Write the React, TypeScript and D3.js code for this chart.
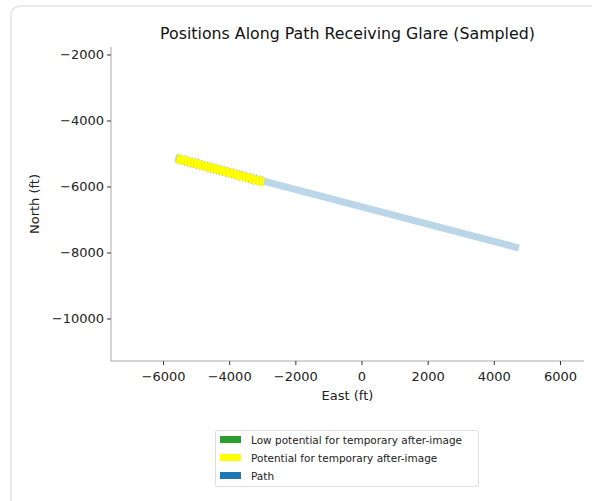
import React from "react";
import * as d3 from "d3";

const title = "Positions Along Path Receiving Glare (Sampled)";
const xTicks = [-6000, -4000, -2000, 0, 2000, 4000, 6000];
const yTicks = [-2000, -4000, -6000, -8000, -10000];
const pathEast = [-5650, 4740];
const pathNorth = [-5120, -7850];
const glareEast = [-5600, -2960];
const glareNorth = [-5135, -5850];
const legendLabels = ["Low potential for temporary after-image", "Potential for temporary after-image", "Path"];
const legendColors = ["#2ca02c", "#ffff00", "#1f77b4"];

export default function App() {
  const W = 592, H = 501;
  const left = 111, right = 584, top = 47, bottom = 361;
  const x = d3.scaleLinear().domain([-7588, 6711]).range([left, right]);
  const y = d3.scaleLinear().domain([-1758, -11273]).range([top, bottom]);
  const line = d3.line<[number, number]>().x(d => x(d[0])).y(d => y(d[1]));
  const pathPts: [number, number][] = pathEast.map((e, i) => [e, pathNorth[i]]);
  const glarePts: [number, number][] = glareEast.map((e, i) => [e, glareNorth[i]]);
  const font = "DejaVu Sans, sans-serif";
  return (
    <svg width={W} height={H} style={{ position: "absolute", left: 0, top: 0, background: "#fff" }} fontFamily={font}>
      <rect x={11} y={6} width={620} height={540} rx={9} fill="#fff" stroke="#e3e3e3" strokeWidth={1.5} />
      <text x={(left + right) / 2} y={39} textAnchor="middle" fontSize={15.8} fill="#111">{title}</text>
      <path d={line(pathPts) || ""} stroke="#1f77b4" strokeOpacity={0.3} strokeWidth={7} fill="none" />
      <path d={line(glarePts) || ""} stroke="#a0a030" strokeWidth={10} strokeDasharray="1 2" fill="none" />
      <path d={line(glarePts) || ""} stroke="#ffff00" strokeWidth={8.5} fill="none" />
      <line x1={left} x2={left} y1={top} y2={bottom} stroke="#aaa" strokeWidth={1} />
      <line x1={left} x2={right} y1={bottom} y2={bottom} stroke="#aaa" strokeWidth={1} />
      {xTicks.map(t => (
        <g key={"x" + t}>
          <line x1={x(t)} x2={x(t)} y1={bottom} y2={bottom + 4} stroke="#333" />
          <text x={x(t)} y={bottom + 20} textAnchor="middle" fontSize={13} fill="#222">{t < 0 ? "\u2212" + Math.abs(t) : t}</text>
        </g>
      ))}
      {yTicks.map(t => (
        <g key={"y" + t}>
          <line x1={left - 4} x2={left} y1={y(t)} y2={y(t)} stroke="#333" />
          <text x={left - 7} y={y(t) + 4.5} textAnchor="end" fontSize={13} fill="#222">{"\u2212" + Math.abs(t)}</text>
        </g>
      ))}
      <text x={(left + right) / 2} y={400} textAnchor="middle" fontSize={13} fill="#222">East (ft)</text>
      <text transform={`translate(39,${(top + bottom) / 2}) rotate(-90)`} textAnchor="middle" fontSize={13} fill="#222">North (ft)</text>
      <rect x={215.5} y={430.5} width={263} height={56} rx={2} fill="#fff" stroke="#ddd" />
      {legendLabels.map((l, i) => (
        <g key={l}>
          <rect x={220} y={436 + i * 18} width={21} height={7} fill={legendColors[i]} />
          <text x={251} y={443.5 + i * 18} fontSize={10.5} fill="#222">{l}</text>
        </g>
      ))}
    </svg>
  );
}
